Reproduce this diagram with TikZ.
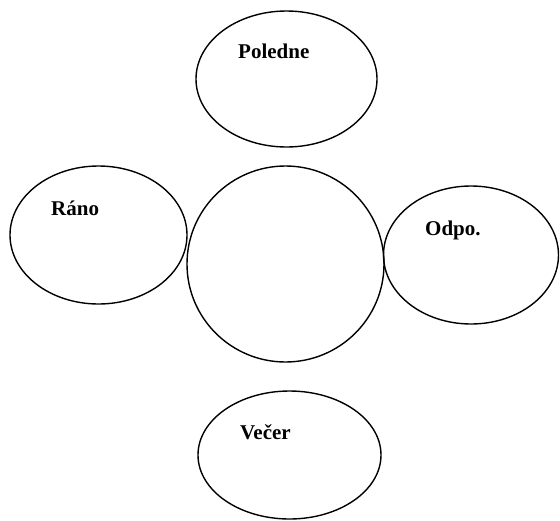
\documentclass[tikz,border=0pt]{standalone}
\usepackage{fontspec}
\setmainfont{Liberation Serif}
\usetikzlibrary{shapes.geometric}
\begin{document}
\begin{tikzpicture}[x=1pt,y=-1pt,
  blob/.style={draw=black,line width=1.4pt,ellipse,inner sep=0pt},
  lbl/.style={anchor=base west,inner sep=0pt,font=\fontsize{21}{24}\selectfont\bfseries}]
\useasboundingbox (0,0) rectangle (560,520);
\node[blob,minimum width=181pt,minimum height=136pt] (poledne) at (286.5,79) {};
\node[blob,minimum width=177pt,minimum height=138pt] (rano) at (98.5,235) {};
\node[blob,minimum width=197pt,minimum height=196pt] (stred) at (285.5,264) {};
\node[blob,minimum width=175pt,minimum height=138pt] (odpo) at (471,255) {};
\node[blob,minimum width=183pt,minimum height=128pt] (vecer) at (289.5,455) {};
\node[lbl] (tpoledne) at (238,58) {Poledne};
\node[lbl] (trano) at (51,215) {Ráno};
\node[lbl] (todpo) at (425,235.5) {Odpo.};
\node[lbl] (tvecer) at (240,439) {Večer};
\end{tikzpicture}
\end{document}
